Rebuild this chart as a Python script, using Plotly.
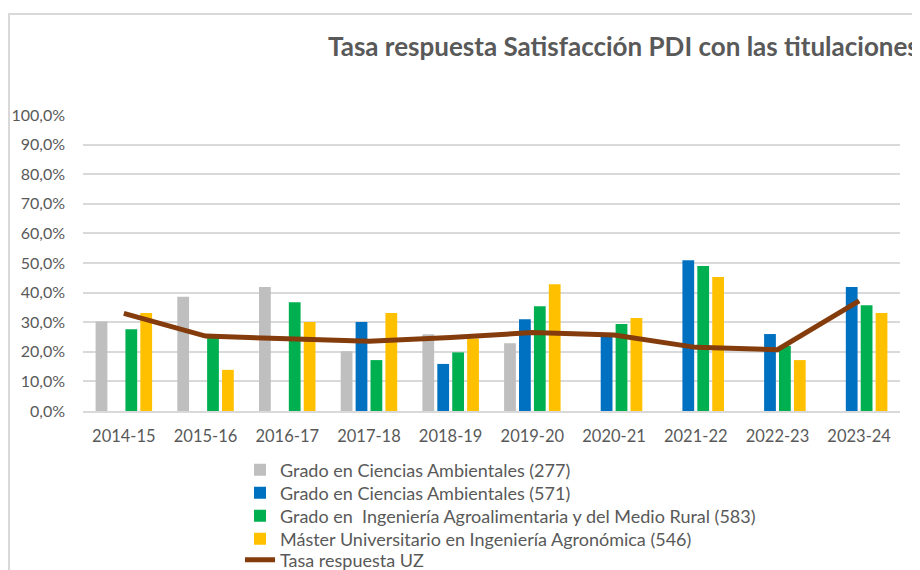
import plotly.graph_objects as go

categories = ["2014-15", "2015-16", "2016-17", "2017-18", "2018-19",
              "2019-20", "2020-21", "2021-22", "2022-23", "2023-24"]

grado_ca_277 = [30.2, 38.6, 41.9, 20.2, 25.9, 22.9, None, None, None, None]
grado_ca_571 = [None, None, None, 30.1, 15.9, 31.0, 25.5, 50.9, 26.0, 41.9]
grado_iamr_583 = [27.6, 25.5, 36.7, 17.2, 19.8, 35.4, 29.4, 49.0, 22.0, 35.7]
master_ia_546 = [33.1, 13.9, 30.1, 33.1, 24.5, 42.8, 31.4, 45.3, 17.2, 33.1]
tasa_uz = [33.0, 25.3, 24.4, 23.6, 24.8, 26.5, 25.7, 21.5, 20.7, 37.2]

y_tick_vals = [0, 10, 20, 30, 40, 50, 60, 70, 80, 90, 100]
y_tick_text = ["0,0%", "10,0%", "20,0%", "30,0%", "40,0%", "50,0%",
               "60,0%", "70,0%", "80,0%", "90,0%", "100,0%"]

series_names = [
    "Grado en Ciencias Ambientales (277)",
    "Grado en Ciencias Ambientales (571)",
    "Grado en  Ingeniería Agroalimentaria y del Medio Rural (583)",
    "Máster Universitario en Ingeniería Agronómica (546)",
]
line_name = "Tasa respuesta UZ"
title_text = "Tasa respuesta Satisfacción PDI con las titulaciones"

colors = ["#BFBFBF", "#0070C0", "#00B050", "#FFC000"]
line_color = "#843C0C"
text_color = "#595959"
grid_color = "#D9D9D9"
font_family = "Lato, 'Open Sans', sans-serif"

# page body has an 8px default margin: figure pixel = window pixel - 8
OFF = 8
W, H = 912, 562
ML, MR, MT, MB = 75, 20, 107, 159
plot_w = W - ML - MR
plot_h = H - MT - MB


def px_x(x):
    return (x - OFF - ML) / plot_w


def px_y(y):
    return (H - MB - (y - OFF)) / plot_h


legend_ids = ["legend", "legend2", "legend3", "legend4", "legend5"]
legend_rows_y = [470, 493, 516, 539, 560]

fig = go.Figure()
for i, (name, vals, col) in enumerate(zip(
        series_names,
        [grado_ca_277, grado_ca_571, grado_iamr_583, master_ia_546],
        colors)):
    fig.add_trace(go.Bar(x=categories, y=vals, name=name, legend=legend_ids[i],
                         marker=dict(color=col, line=dict(width=0))))

fig.add_trace(go.Scatter(x=categories, y=tasa_uz, name=line_name, mode="lines",
                         legend=legend_ids[4],
                         line=dict(color=line_color, width=5)))

legend_common = dict(orientation="v", x=px_x(240), xanchor="left",
                     yanchor="middle", font=dict(size=18, color=text_color),
                     itemwidth=30, bgcolor="rgba(0,0,0,0)", borderwidth=0)

layout_legends = {}
for lid, ry in zip(legend_ids, legend_rows_y):
    layout_legends[lid] = dict(legend_common, y=px_y(ry))

fig.update_layout(
    width=W, height=H,
    margin=dict(l=ML, r=MR, t=MT, b=MB, autoexpand=False),
    paper_bgcolor="white", plot_bgcolor="white",
    barmode="group", bargap=0.27, bargroupgap=0.21,
    font=dict(family=font_family, color=text_color, size=16.5),
    showlegend=True,
    xaxis=dict(showgrid=False, showline=True, linecolor=grid_color, linewidth=2,
               ticks="", tickfont=dict(size=16.5, color=text_color),
               ticklabelstandoff=9, fixedrange=True),
    yaxis=dict(range=[0, 100], tickvals=y_tick_vals, ticktext=y_tick_text,
               showgrid=True, gridcolor=grid_color, gridwidth=1.5,
               zeroline=False, showline=False,
               tickfont=dict(size=16, color=text_color),
               ticklabelstandoff=17, fixedrange=True),
    annotations=[dict(text="<b>" + title_text + "</b>",
                      x=px_x(326), xref="paper", y=px_y(46), yref="paper",
                      showarrow=False, xanchor="left", yanchor="middle",
                      font=dict(size=26, color=text_color, family=font_family))],
    **layout_legends,
)

# chart frame border (top and left visible)
fig.add_shape(type="rect", xref="paper", yref="paper",
              x0=px_x(9), x1=px_x(960), y0=px_y(600), y1=px_y(14),
              line=dict(color=grid_color, width=2), fillcolor="rgba(0,0,0,0)",
              layer="below")

fig.write_html("out.html")
